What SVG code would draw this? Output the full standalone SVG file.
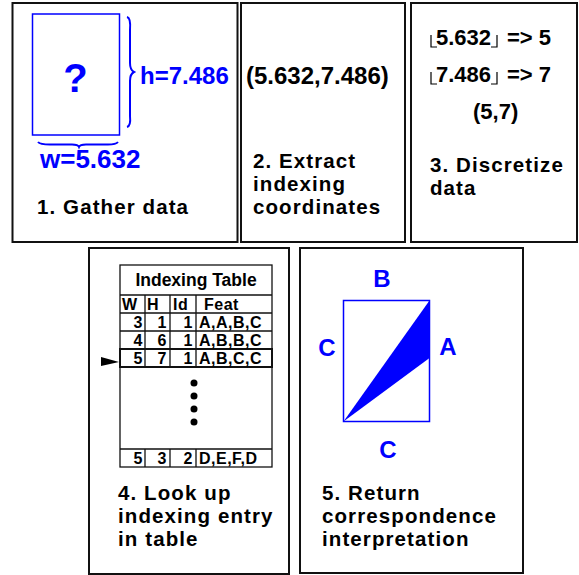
<svg xmlns="http://www.w3.org/2000/svg" width="579" height="575" viewBox="0 0 579 575">
<style>
text{font-family:"Liberation Sans",Arial,Helvetica,sans-serif;font-weight:bold}
.frame{fill:#fff;stroke:#111;stroke-width:2}
.lbl{font-size:20.5px;letter-spacing:1.1px;fill:#000}
.blue{fill:#0000ff;font-size:24px}
.bstroke{fill:none;stroke:#0000ff;stroke-width:2}
.tbl{fill:none;stroke:#111;stroke-width:1.3}
.t{font-size:16px;letter-spacing:0.5px;fill:#000}
.th{font-size:17.5px;fill:#000}
.m{font-size:22px;fill:#000}
</style>
<rect width="579" height="575" fill="#fff"/>
<g id="panel1">
<rect class="frame" x="12.5" y="3" width="225" height="239"/>
<rect x="32.5" y="14" width="87" height="121" fill="none" stroke="#0000ff" stroke-width="1.5"/>
<text class="blue" x="75.5" y="92" text-anchor="middle" style="font-size:40px">?</text>
<path class="bstroke" d="M127,17 Q131,18 130,30 L130,63 Q130,70 134,72 Q130,74 130,81 L130,116 Q131,126 127,127"/>
<text class="blue" x="140" y="84">h=7.486</text>
<path class="bstroke" d="M38,142 Q40,144.5 50,144.5 L72,144.5 Q78,144.5 79,147 Q80,144.5 86,144.5 L108,144.5 Q116,144.5 118,142"/>
<text class="blue" x="40" y="168" style="font-size:26px">w=5.632</text>
<text class="lbl" x="37" y="214">1. Gather data</text>
</g>
<g id="panel2">
<rect class="frame" x="241" y="3" width="164" height="239"/>
<text class="lbl" x="246" y="84" style="font-size:24px;letter-spacing:0">(5.632,7.486)</text>
<text class="lbl" x="253" y="168">2. Extract</text>
<text class="lbl" x="253" y="191">indexing</text>
<text class="lbl" x="253" y="214">coordinates</text>
</g>
<g id="panel3">
<rect class="frame" x="411" y="3" width="166" height="239"/>
<path d="M431,35 V47 H437 M491,47 H497 V35" fill="none" stroke="#000" stroke-width="1.2"/>
<text class="m" y="45"><tspan x="436">5.632</tspan><tspan x="507">=&gt; 5</tspan></text>
<path d="M431,72 V84 H437 M491,84 H497 V72" fill="none" stroke="#000" stroke-width="1.2"/>
<text class="m" y="82"><tspan x="436">7.486</tspan><tspan x="507">=&gt; 7</tspan></text>
<text class="m" x="473" y="119">(5,7)</text>
<text class="lbl" x="430" y="172">3. Discretize</text>
<text class="lbl" x="430" y="195">data</text>
</g>
<g id="panel4">
<rect class="frame" x="89" y="248" width="200" height="326"/>
<rect class="tbl" x="120" y="265" width="152" height="202"/>
<line class="tbl" x1="120" y1="295" x2="272" y2="295"/>
<text class="th" x="196" y="286" text-anchor="middle">Indexing Table</text>
<path class="tbl" d="M120,313 H272 M120,331 H272 M120,349 H272 M145,295 V367 M170,295 V367 M196,295 V367 M120,449 H272 M145,449 V467 M170,449 V467 M196,449 V467"/>
<rect x="120" y="349" width="152" height="18" fill="none" stroke="#111" stroke-width="2"/>
<text class="t" y="309.5"><tspan x="122">W</tspan><tspan x="147">H</tspan><tspan x="173">Id</tspan><tspan x="204">Feat</tspan></text>
<text class="t" y="327.5"><tspan x="143" text-anchor="end">3</tspan><tspan x="167" text-anchor="end">1</tspan><tspan x="193" text-anchor="end">1</tspan><tspan x="199">A,A,B,C</tspan></text>
<text class="t" y="345.5"><tspan x="143" text-anchor="end">4</tspan><tspan x="167" text-anchor="end">6</tspan><tspan x="193" text-anchor="end">1</tspan><tspan x="199">A,B,B,C</tspan></text>
<text class="t" y="363.5"><tspan x="143" text-anchor="end">5</tspan><tspan x="167" text-anchor="end">7</tspan><tspan x="193" text-anchor="end">1</tspan><tspan x="199">A,B,C,C</tspan></text>
<text class="t" y="463.5"><tspan x="143" text-anchor="end">5</tspan><tspan x="167" text-anchor="end">3</tspan><tspan x="193" text-anchor="end">2</tspan><tspan x="199">D,E,F,D</tspan></text>
<g fill="#000"><circle cx="194" cy="383" r="3.5"/><circle cx="194" cy="396" r="3.5"/><circle cx="194" cy="409" r="3.5"/><circle cx="194" cy="422" r="3.5"/></g>
<polygon points="101,357 119,362 101,366" fill="#000"/>
<text class="lbl" x="118" y="500">4. Look up</text>
<text class="lbl" x="118" y="523">indexing entry</text>
<text class="lbl" x="118" y="546">in table</text>
</g>
<g id="panel5">
<rect class="frame" x="300" y="248" width="223" height="325"/>
<rect x="343.5" y="300.5" width="86" height="121" fill="none" stroke="#0000ff" stroke-width="1.5"/>
<polygon points="343.5,421.5 429.5,300.5 429.5,358" fill="#0000ff"/>
<text class="blue" x="382" y="287" text-anchor="middle">B</text>
<text class="blue" x="327" y="356" text-anchor="middle">C</text>
<text class="blue" x="448" y="355" text-anchor="middle">A</text>
<text class="blue" x="388" y="458" text-anchor="middle">C</text>
<text class="lbl" x="322" y="500">5. Return</text>
<text class="lbl" x="322" y="523">correspondence</text>
<text class="lbl" x="322" y="546">interpretation</text>
</g>
<g id="connectors"></g>
</svg>
